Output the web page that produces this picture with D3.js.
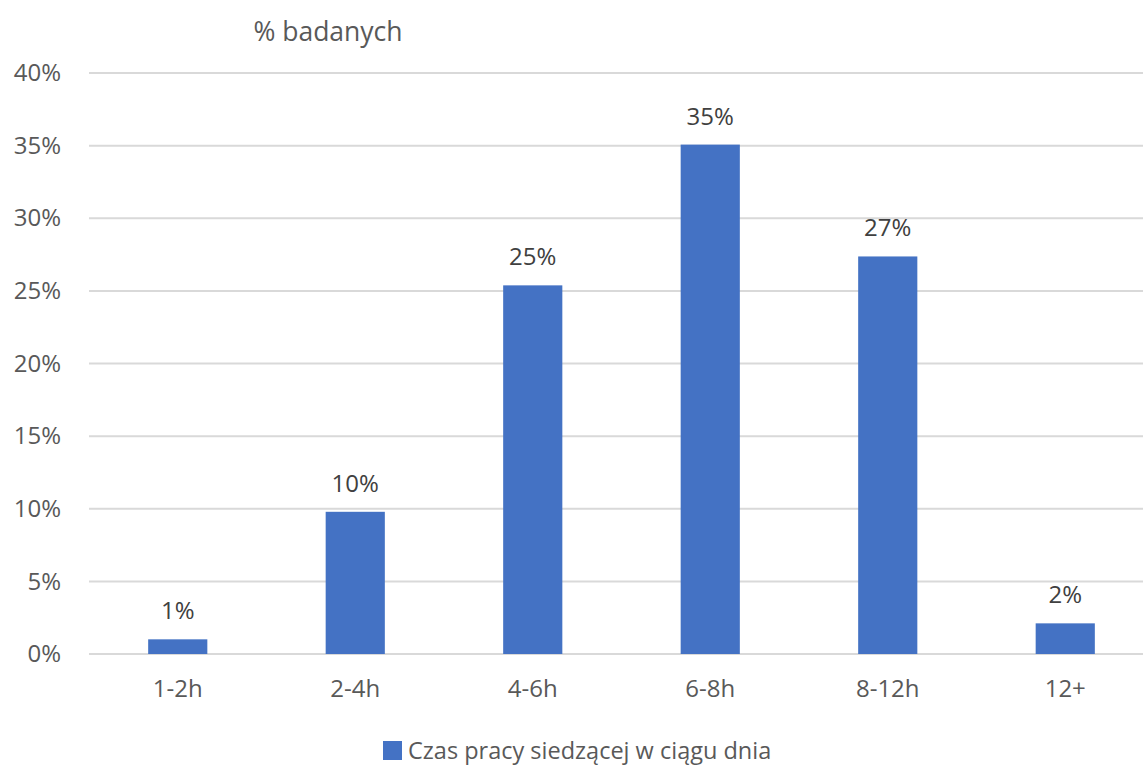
<!DOCTYPE html>
<html>
<head>
<meta charset="utf-8">
<script src="https://cdn.jsdelivr.net/npm/d3@7"></script>
<style>
  html, body { margin: 0; padding: 0; background: #fff; }
  svg { display: block; font-family: "Open Sans", "Noto Sans", sans-serif; }
</style>
</head>
<body>
<svg id="chart" width="1143" height="767"></svg>
<script>
// Sitting time per day (share of respondents)
const categories = ["1-2h", "2-4h", "4-6h", "6-8h", "8-12h", "12+"];
const values = [0.0101, 0.0979, 0.2538, 0.3507, 0.2737, 0.0211];
const yTicks = [0, 0.05, 0.10, 0.15, 0.20, 0.25, 0.30, 0.35, 0.40];
const yTitle = "% badanych";
const seriesName = "Czas pracy siedzącej w ciągu dnia";

const W = 1143, H = 767;
const svg = d3.select("#chart");

const x = d3.scaleBand()
  .domain(categories)
  .range([89, 1154])
  .paddingInner(2 / 3)
  .paddingOuter(1 / 3);

const y = d3.scaleLinear()
  .domain([0, 0.40])
  .range([654, 73]);

const pct = d3.format(".0%");

// horizontal gridlines
svg.append("g")
  .selectAll("line")
  .data(yTicks)
  .join("line")
  .attr("x1", 89)
  .attr("x2", 1154)
  .attr("y1", d => y(d))
  .attr("y2", d => y(d))
  .attr("stroke", "#d9d9d9")
  .attr("stroke-width", 2);

// y axis labels
const yAxis = d3.axisLeft(y).tickValues(yTicks).tickFormat(pct).tickSize(0).tickPadding(0);
const yg = svg.append("g").attr("transform", "translate(61,0)").call(yAxis);
yg.select(".domain").remove();
yg.selectAll("text")
  .attr("fill", "#595959")
  .style("font-size", "24px")
  .style("font-family", "'Open Sans', sans-serif");

// bars
svg.append("g")
  .selectAll("rect")
  .data(values)
  .join("rect")
  .attr("x", (d, i) => x(categories[i]))
  .attr("width", x.bandwidth())
  .attr("y", d => y(d))
  .attr("height", d => y(0) - y(d))
  .attr("fill", "#4472c4");

// value labels
svg.append("g")
  .selectAll("text")
  .data(values)
  .join("text")
  .attr("x", (d, i) => x(categories[i]) + x.bandwidth() / 2)
  .attr("y", d => y(d) - 20)
  .attr("text-anchor", "middle")
  .attr("fill", "#404040")
  .style("font-size", "24px")
  .text(d => pct(d));

// x axis labels
const xAxis = d3.axisBottom(x).tickSize(0).tickPadding(0);
const xg = svg.append("g").attr("transform", "translate(0,697)").call(xAxis);
xg.select(".domain").remove();
xg.selectAll("text")
  .attr("dy", 0)
  .attr("fill", "#595959")
  .style("font-size", "24px")
  .style("font-family", "'Open Sans', sans-serif");

// axis title
svg.append("text")
  .attr("x", 328)
  .attr("y", 41)
  .attr("text-anchor", "middle")
  .attr("fill", "#595959")
  .style("font-size", "26.5px")
  .text(yTitle);

// legend
const legend = svg.append("g").attr("transform", "translate(383,741)");
legend.append("rect")
  .attr("width", 19)
  .attr("height", 19)
  .attr("fill", "#4472c4");
legend.append("text")
  .attr("x", 25)
  .attr("y", 18)
  .attr("fill", "#595959")
  .style("font-size", "23.5px")
  .text(seriesName);
</script>
</body>
</html>
